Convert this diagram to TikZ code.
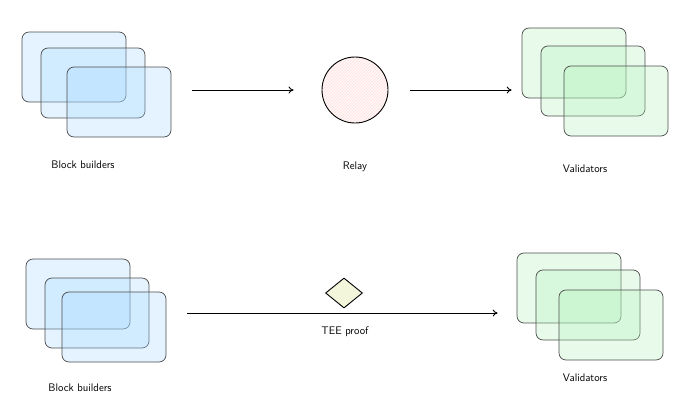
\documentclass[tikz,border=0pt]{standalone}
\usepackage{tikz}
\usetikzlibrary{positioning,arrows.meta,shapes.geometric,patterns}
\definecolor{bbblue}{HTML}{A5D8FF}
\definecolor{valgreen}{HTML}{B2F2BB}
\definecolor{relaypink}{HTML}{FFC9C9}
\definecolor{proofyellow}{HTML}{F4F6DC}
\tikzset{
  flow/.style={-{To[length=5pt,width=7pt]}, line width=0.9pt, draw=black},
  card/.style={draw=black!70, line width=0.7pt, rounded corners=7pt, minimum width=104pt, minimum height=70pt, inner sep=0pt, fill opacity=0.3}
}

\begin{document}
\begin{tikzpicture}[
    x=1pt, y=-1pt,
    font=\sffamily\fontsize{11}{13}\selectfont,
    txt/.style={align=center},
    buildercard/.style={card, fill=bbblue},
    validatorcard/.style={card, fill=valgreen}
  ]
  \useasboundingbox (0,0) rectangle (690,415);

  % top row: builders -> relay -> validators
  \node[buildercard] (bbtopA) at (74,67) {};
  \node[buildercard] (bbtopB) at (93,83) {};
  \node[buildercard] (bbtopC) at (119,102) {};
  \node[txt] (bbtoplabel) at (83,165) {Block builders};

  \node[circle, draw, line width=0.9pt, minimum size=66pt, inner sep=0pt,
        preaction={fill=relaypink!12}, pattern=north east lines, pattern color=relaypink!60] (relay) at (355,90) {};
  \node[txt] (relaylabel) at (355,167) {Relay};

  \node[validatorcard] (valtopA) at (574,63) {};
  \node[validatorcard] (valtopB) at (593,81) {};
  \node[validatorcard] (valtopC) at (616,101) {};
  \node[txt] (valtoplabel) at (585,169) {Validators};

  \draw[flow, shorten <=21pt, shorten >=28pt] (bbtopC.east |- relay.west) -- (relay.west);
  \draw[flow, shorten <=22pt, shorten >=10pt] (relay.east) -- (relay.east -| valtopA.west);

  % bottom row: builders -> validators with TEE proof
  \node[buildercard] (bbbotA) at (78,294) {};
  \node[buildercard] (bbbotB) at (97,313) {};
  \node[buildercard] (bbbotC) at (114,327) {};
  \node[txt] (bbbotlabel) at (80,388) {Block builders};

  \node[validatorcard] (valbotA) at (569,288) {};
  \node[validatorcard] (valbotB) at (588,305) {};
  \node[validatorcard] (valbotC) at (611,325) {};
  \node[txt] (valbotlabel) at (585,378) {Validators};

  \node[diamond, draw, line width=0.9pt, minimum width=37pt, minimum height=30pt, inner sep=0pt,
        fill=proofyellow] (proof) at (344,293) {};
  \node[txt] (prooflabel) at (345,332) {TEE proof};

  \draw[flow, shorten <=21pt, shorten >=19pt] (bbbotC.east |- bbbotB) -- (valbotA.west |- bbbotB);

\end{tikzpicture}
\end{document}
